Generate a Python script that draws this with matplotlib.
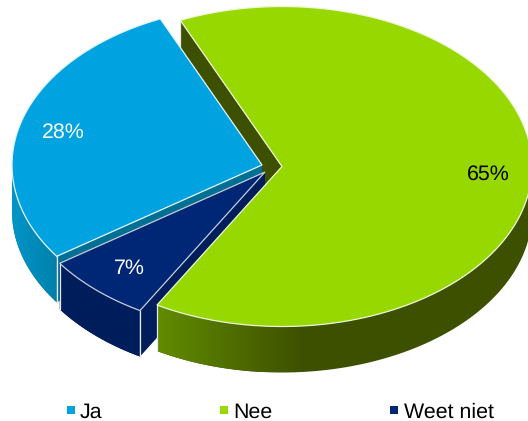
import numpy as np
import matplotlib
matplotlib.use('Agg')
import matplotlib.pyplot as plt
from matplotlib.patches import Polygon
from matplotlib.colors import LinearSegmentedColormap

plt.rcParams['font.family'] = ['Liberation Sans', 'DejaVu Sans']
plt.rcParams['text.hinting'] = 'none'

categories = ['Ja', 'Nee', 'Weet niet']
values = [28, 65, 7]
labels = ['28%', '65%', '7%']

start_angle = 214.8
rx, ry = 250, 160
depth = 46

centers = [(262, 165), (282, 166.5), (265, 172)]
top_colors = ['#00A3E0', '#96D800', '#002776']
cut_colors = ['#006F94', '#3D5000', '#001D5C']
edge_colors = ['#E4F4FA', '#EEF6D8', '#C4CCD8']
side_stops = [['#0096C8', '#0080AB'], ['#628C00', '#3D5000'], ['#001D5C', '#001D5C']]
label_pos = [(63, 132), (488, 174), (129, 268)]
label_colors = ['white', 'black', 'white']
legend_x = [70.5, 223.5, 394]

# the draw order of the sides and cut faces
side_z = [2, 4, 3]
cut_z = [2.5, 1, 3.5]

fig = plt.figure(figsize=(5.28, 4.21), dpi=100)
ax = fig.add_axes([0, 0, 1, 1])


def arc(c, a1, a2, drop=0):
    t = np.radians(np.linspace(a1, a2, 120))
    return np.column_stack([c[0] + rx * np.cos(t), c[1] - ry * np.sin(t) + drop])


def draw_side(c, a1, a2, stops, z):
    # only the lower half of the rim can be seen
    lo, hi = max(a1, 180), min(a2, 360)
    if hi <= lo:
        return
    top = arc(c, lo, hi)
    bottom = arc(c, lo, hi, depth)
    pts = np.vstack([top, bottom[::-1]])
    x0, x1 = pts[:, 0].min(), min(pts[:, 0].max(), c[0] + 20)
    cmap = LinearSegmentedColormap.from_list('side', stops)
    # flat colour past the gradient end
    ax.add_patch(Polygon(pts, closed=True, fc=stops[-1], ec='none', zorder=z - 0.1))
    im = ax.imshow(np.linspace(0, 1, 256).reshape(1, -1), cmap=cmap, aspect='auto',
                   extent=(x0, x1, pts[:, 1].max(), pts[:, 1].min()), zorder=z)
    im.set_clip_path(Polygon(pts, closed=True, transform=ax.transData))
    # light line only on real slice corners, not on the silhouette
    if a1 > 180:
        ax.plot([top[0, 0], bottom[0, 0]], [top[0, 1], bottom[0, 1]], color='#E6EAF0', lw=0.9, zorder=z + 0.1)
    if a2 < 360:
        ax.plot([top[-1, 0], bottom[-1, 0]], [top[-1, 1], bottom[-1, 1]], color='#E6EAF0', lw=0.9, zorder=z + 0.1)


# angles of every slice, clockwise from the start angle
spans = np.array(values) / sum(values) * 360
a = start_angle
slices = []
for s in spans:
    slices.append((a, a - s))
    a -= s

for i in range(3):
    c = centers[i]
    a_start, a_end = slices[i]
    lo, hi = a_end, a_start
    while lo < 0:
        lo += 360
        hi += 360
    draw_side(c, lo, hi, side_stops[i], side_z[i])

    # cut face below the edge that is turned to the viewer
    p = arc(c, a_start, a_start)[0]
    face = [c, p, (p[0], p[1] + depth), (c[0], c[1] + depth)]
    ax.add_patch(Polygon(face, closed=True, fc=cut_colors[i], ec='none', zorder=cut_z[i]))
    ax.plot([p[0], p[0]], [p[1], p[1] + depth], color='#E6EAF0', lw=0.9, zorder=cut_z[i] + 0.1)

    top = np.vstack([[c], arc(c, a_start, a_end)])
    ax.add_patch(Polygon(top, closed=True, fc=top_colors[i], ec=edge_colors[i], lw=0.9,
                         joinstyle='miter', zorder=5))

for lab, pos, col in zip(labels, label_pos, label_colors):
    ax.text(pos[0], pos[1], lab, color=col, fontsize=15.4, ha='center', va='center', zorder=20)

for name, x, col in zip(categories, legend_x, top_colors):
    ax.scatter([x], [409.5], marker='s', s=26, color=col, linewidths=0, zorder=20)
    ax.text(x + 9.5, 417.5, name, color='black', fontsize=15.4, ha='left', va='baseline', zorder=20)

ax.set_xlim(0, 528)
ax.set_ylim(421, 0)
ax.axis('off')
fig.savefig('out.png', dpi=100)
